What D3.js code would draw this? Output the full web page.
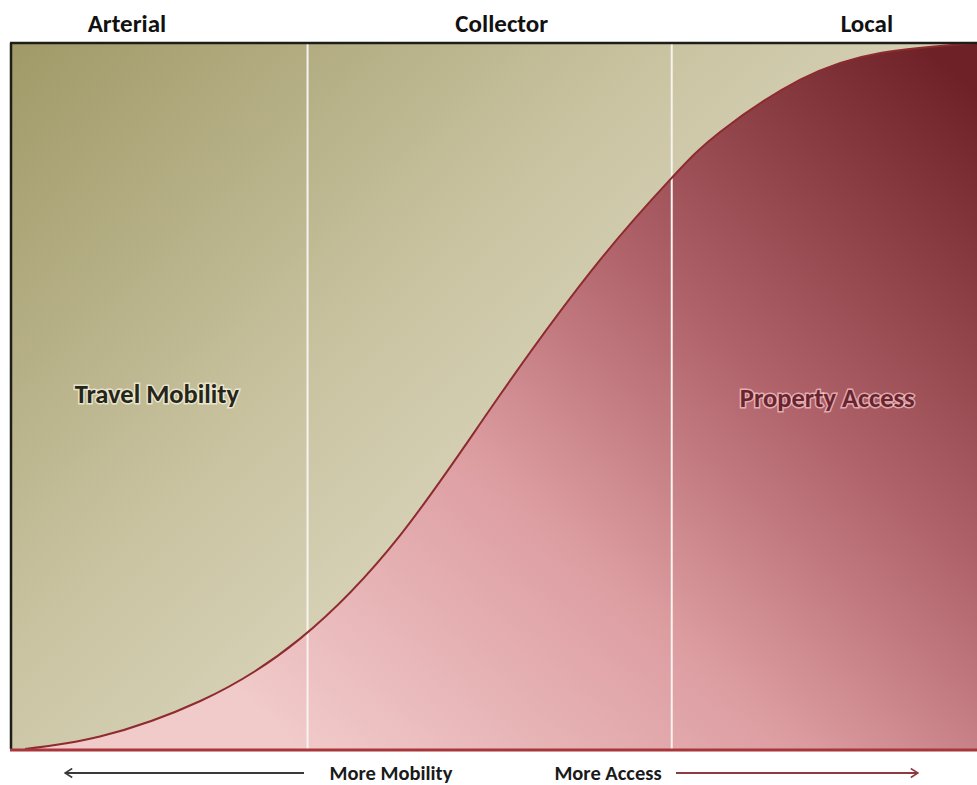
<!DOCTYPE html>
<html>
<head>
<meta charset="utf-8">
<script src="https://cdn.jsdelivr.net/npm/d3@7"></script>
<style>
  body { margin: 0; background: #fff; }
  text { font-family: "Carlito", "Liberation Sans Narrow", Lato, "Open Sans", sans-serif; font-weight: bold; }
</style>
</head>
<body>
<svg id="chart" width="977" height="785"></svg>
<script>
/** Chart data **/
// Share of the road role that is property access (%), by position along the class spectrum (%).
var spectrumPos = [1.45, 9.2, 19.6, 29.9, 40.3, 50.6, 61.0, 68.4, 73.4, 81.7, 90.0, 100];
var accessShare = [0, 1.76, 6.8, 15.6, 30.3, 50.1, 69.3, 80.9, 87.4, 94.8, 98.6, 100];

var classNames    = ["Arterial", "Collector", "Local"];
var classLabelAt  = [12.0, 50.8, 88.6];     // label centre along spectrum
var classBounds   = [30.7, 68.4];           // white divider lines

var regionLabels  = ["Travel Mobility", "Property Access"];
var regionLabelAt = [[6.6, 50.3], [84.5, 49.8]];   // [spectrum, share]

var arrowLabels   = ["More Mobility", "More Access"];


function drawChart()
{
    var svg = d3.select("#chart");

    var plot_left   = 11;
    var plot_right  = 977;
    var plot_top    = 43;
    var plot_bottom = 749;

    var color_mob_text  = '#25251a';
    var color_acc_text  = '#6a2430';
    var color_curve     = '#8e2b2f';
    var color_base      = '#a8363a';

    var xScale = d3.scaleLinear()
        .domain([0, 100])
        .range([plot_left, plot_right]);

    var yScale = d3.scaleLinear()
        .domain([0, 100])
        .range([plot_bottom, plot_top]);

    var pts = spectrumPos.map(function(p, i) {
        return { x: p, y: accessShare[i] };
    });

    // Gradients
    var defs = svg.append("defs");

    var gMob = defs.append("linearGradient")
        .attr("id", "gradMobility")
        .attr("gradientUnits", "userSpaceOnUse")
        .attr("x1", plot_left).attr("y1", plot_top)
        .attr("x2", 620).attr("y2", 700);
    gMob.append("stop").attr("offset", 0).attr("stop-color", "#a09967");
    gMob.append("stop").attr("offset", 0.5).attr("stop-color", "#c9c3a1");
    gMob.append("stop").attr("offset", 1).attr("stop-color", "#e6e2d0");

    var gAcc = defs.append("linearGradient")
        .attr("id", "gradAccess")
        .attr("gradientUnits", "userSpaceOnUse")
        .attr("x1", 300).attr("y1", plot_bottom)
        .attr("x2", 930).attr("y2", 50);
    gAcc.append("stop").attr("offset", 0).attr("stop-color", "#f1caca");
    gAcc.append("stop").attr("offset", 0.35).attr("stop-color", "#dd9ea2");
    gAcc.append("stop").attr("offset", 0.62).attr("stop-color", "#b0636a");
    gAcc.append("stop").attr("offset", 1).attr("stop-color", "#6e2227");

    // Mobility background (whole plot)
    svg.append("rect")
        .attr("x", xScale(0))
        .attr("y", yScale(100))
        .attr("width", xScale(100) - xScale(0))
        .attr("height", yScale(0) - yScale(100))
        .style("fill", "url(#gradMobility)");

    // Access area under the curve
    var area = d3.area()
        .x(function(d) { return xScale(d.x); })
        .y0(yScale(0))
        .y1(function(d) { return yScale(d.y); })
        .curve(d3.curveNatural);

    var line = d3.line()
        .x(function(d) { return xScale(d.x); })
        .y(function(d) { return yScale(d.y); })
        .curve(d3.curveNatural);

    svg.append("path")
        .datum(pts)
        .attr("d", area)
        .style("fill", "url(#gradAccess)");

    // Class divider lines
    svg.selectAll(".divider")
        .data(classBounds)
        .enter()
        .append("line")
        .attr("class", "divider")
        .attr("x1", function(d) { return xScale(d); })
        .attr("x2", function(d) { return xScale(d); })
        .attr("y1", yScale(100))
        .attr("y2", yScale(0))
        .style("stroke", "#f7f3ee")
        .style("stroke-width", 2);

    svg.append("path")
        .datum(pts)
        .attr("d", line)
        .style("fill", "none")
        .style("stroke", color_curve)
        .style("stroke-width", 2);

    // Frame: black top and left, red base
    svg.append("line")
        .attr("x1", xScale(0) - 1).attr("x2", xScale(100))
        .attr("y1", yScale(100)).attr("y2", yScale(100))
        .style("stroke", "#1e1e18").style("stroke-width", 2.5);

    svg.append("line")
        .attr("x1", xScale(0)).attr("x2", xScale(0))
        .attr("y1", yScale(100)).attr("y2", yScale(0))
        .style("stroke", "#1e1e18").style("stroke-width", 2.5);

    svg.append("line")
        .attr("x1", xScale(0) - 1).attr("x2", xScale(100))
        .attr("y1", yScale(0) + 1).attr("y2", yScale(0) + 1)
        .style("stroke", color_base).style("stroke-width", 3);

    // Class names
    svg.selectAll(".classLabel")
        .data(classNames)
        .enter()
        .append("text")
        .attr("class", "classLabel")
        .attr("x", function(d, i) { return xScale(classLabelAt[i]); })
        .attr("y", 32)
        .attr("text-anchor", "middle")
        .style("font-size", "25px")
        .style("fill", "#111")
        .text(function(d) { return d; });

    // Region labels
    svg.selectAll(".regionLabel")
        .data(regionLabels)
        .enter()
        .append("text")
        .attr("class", "regionLabel")
        .attr("x", function(d, i) { return xScale(regionLabelAt[i][0]); })
        .attr("y", function(d, i) { return yScale(regionLabelAt[i][1]); })
        .attr("text-anchor", function(d, i) { return i == 0 ? "start" : "middle"; })
        .attr("dy", "0.35em")
        .style("font-size", "26.5px")
        .style("paint-order", "stroke")
        .style("stroke", function(d, i) { return i == 0 ? "rgba(250,248,230,0.7)" : "rgba(255,215,215,0.65)"; })
        .style("stroke-width", 3)
        .style("fill", function(d, i) { return i == 0 ? color_mob_text : color_acc_text; })
        .text(function(d) { return d; });

    // Bottom arrows
    var arrow_y = 773;
    var arrows = [
        { x1: 304, x2: 65, color: "#3a3a3a", label: arrowLabels[0], tx: 391 },
        { x1: 676, x2: 918, color: "#8e3a40", label: arrowLabels[1], tx: 608 }
    ];

    arrows.forEach(function(a) {
        defs.append("marker")
            .attr("id", "head_" + a.label.replace(" ", ""))
            .attr("viewBox", "0 0 10 10")
            .attr("refX", 9).attr("refY", 5)
            .attr("markerWidth", 9).attr("markerHeight", 11)
            .attr("markerUnits", "userSpaceOnUse")
            .attr("orient", "auto")
            .append("path")
            .attr("d", "M1,0 L9,5 L1,10")
            .style("fill", "none")
            .style("stroke", a.color)
            .style("stroke-width", 1.8);

        svg.append("line")
            .attr("x1", a.x1).attr("x2", a.x2)
            .attr("y1", arrow_y).attr("y2", arrow_y)
            .style("stroke", a.color)
            .style("stroke-width", 1.8)
            .attr("marker-end", "url(#head_" + a.label.replace(" ", "") + ")");

        svg.append("text")
            .attr("x", a.tx)
            .attr("y", arrow_y + 7)
            .attr("text-anchor", "middle")
            .style("font-size", "20.5px")
            .style("fill", "#1a1a1a")
            .text(a.label);
    });
}

drawChart();
</script>
</body>
</html>
